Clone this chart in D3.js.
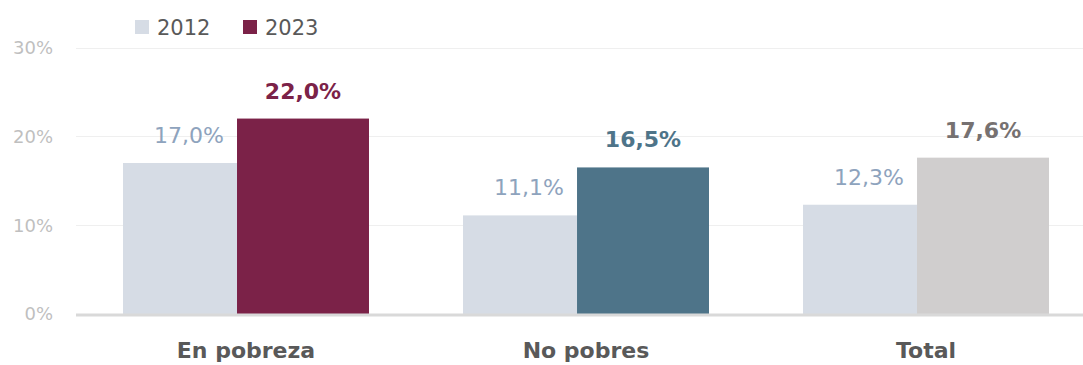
<!DOCTYPE html>
<html lang="es">
<head>
<meta charset="utf-8">
<title>Pobreza 2012 - 2023</title>
<style>
  body { margin: 0; background: #fff; }
  svg { display: block; font-family: "DejaVu Sans", sans-serif; }
  .grid line { stroke: #EFEFEF; stroke-width: 1; }
  .tick-label { fill: #BFBFBF; font-size: 18px; }
  .cat-label { fill: #595959; font-size: 22px; font-weight: bold; }
  .legend text { fill: #595959; font-size: 21px; }
</style>
</head>
<body>
<svg width="1083" height="365"></svg>
<script src="https://cdn.jsdelivr.net/npm/d3@7"></script>
<script>

// data
var categories = ["En pobreza", "No pobres", "Total"];
var years = ["2012", "2023"];
var values2012 = [17.0, 11.1, 12.3];
var values2023 = [22.0, 16.5, 17.6];
var yTicks = [0, 10, 20, 30];

// colours
var color2012 = "#D6DCE5";
var label2012 = "#8EA3BD";
var colors2023 = ["#7B2248", "#4E7489", "#D0CECE"];
var labels2023 = ["#7B2248", "#4E7489", "#767171"];

var svg = d3.select("svg"),
    width = +svg.attr("width"),
    height = +svg.attr("height");

var margin = {left: 76, top: 47.5, bottom: 51};
var plotRight = margin.left + 1020;
var y0 = height - margin.bottom;

var x = d3.scaleBand()
    .domain(categories)
    .range([margin.left, plotRight])
    .paddingInner(0.2765)
    .paddingOuter(0.1382);

var y = d3.scaleLinear()
    .domain([0, 30])
    .range([y0, margin.top]);

// series overlap like the original (2023 drawn over 2012)
var overlap = 0.136;
var barW = x.bandwidth() / (2 - overlap);
var step = barW * (1 - overlap);

var fmt = function(v) { return v.toFixed(1).replace(".", ",") + "%"; };

// gridlines
svg.append("g").attr("class", "grid")
  .selectAll("line")
  .data(yTicks.filter(function(t) { return t > 0; }))
  .enter().append("line")
    .attr("x1", margin.left).attr("x2", width)
    .attr("y1", function(d) { return Math.round(y(d)) + 0.5; })
    .attr("y2", function(d) { return Math.round(y(d)) + 0.5; });

// y tick labels
svg.append("g")
  .selectAll("text")
  .data(yTicks)
  .enter().append("text")
    .attr("class", "tick-label")
    .attr("x", 53)
    .attr("y", function(d) { return y(d); })
    .attr("dy", "0.36em")
    .attr("text-anchor", "end")
    .text(function(d) { return d + "%"; });

// bars 2012
svg.append("g")
  .selectAll("rect")
  .data(values2012)
  .enter().append("rect")
    .attr("x", function(d, i) { return x(categories[i]); })
    .attr("y", function(d) { return y(d); })
    .attr("width", barW)
    .attr("height", function(d) { return y0 - y(d); })
    .attr("fill", color2012);

// bars 2023
svg.append("g")
  .selectAll("rect")
  .data(values2023)
  .enter().append("rect")
    .attr("x", function(d, i) { return x(categories[i]) + step; })
    .attr("y", function(d) { return y(d); })
    .attr("width", barW)
    .attr("height", function(d) { return y0 - y(d); })
    .attr("fill", function(d, i) { return colors2023[i]; });

// value labels
svg.append("g")
  .selectAll("text")
  .data(values2012)
  .enter().append("text")
    .attr("x", function(d, i) { return x(categories[i]) + barW / 2; })
    .attr("y", function(d) { return y(d) - 20; })
    .attr("text-anchor", "middle")
    .attr("fill", label2012)
    .style("font-size", "22px")
    .text(fmt);

svg.append("g")
  .selectAll("text")
  .data(values2023)
  .enter().append("text")
    .attr("x", function(d, i) { return x(categories[i]) + step + barW / 2; })
    .attr("y", function(d) { return y(d) - 20; })
    .attr("text-anchor", "middle")
    .attr("fill", function(d, i) { return labels2023[i]; })
    .style("font-size", "22px")
    .style("font-weight", "bold")
    .text(fmt);

// baseline
svg.append("line")
  .attr("x1", margin.left).attr("x2", width)
  .attr("y1", y0 + 1).attr("y2", y0 + 1)
  .attr("stroke", "#D9D9D9")
  .attr("stroke-width", 3);

// category labels
svg.append("g")
  .selectAll("text")
  .data(categories)
  .enter().append("text")
    .attr("class", "cat-label")
    .attr("x", function(d) { return x(d) + x.bandwidth() / 2; })
    .attr("y", 358)
    .attr("text-anchor", "middle")
    .text(function(d) { return d; });

// legend
var legendX = [135, 243];
var legendColors = [color2012, colors2023[0]];
var legend = svg.append("g").attr("class", "legend")
  .selectAll("g")
  .data(years)
  .enter().append("g")
    .attr("transform", function(d, i) { return "translate(" + legendX[i] + ",20)"; });

legend.append("rect")
    .attr("width", 14).attr("height", 14)
    .attr("fill", function(d, i) { return legendColors[i]; });

legend.append("text")
    .attr("x", 22)
    .attr("y", 15)
    .text(function(d) { return d; });

</script>
</body>
</html>
